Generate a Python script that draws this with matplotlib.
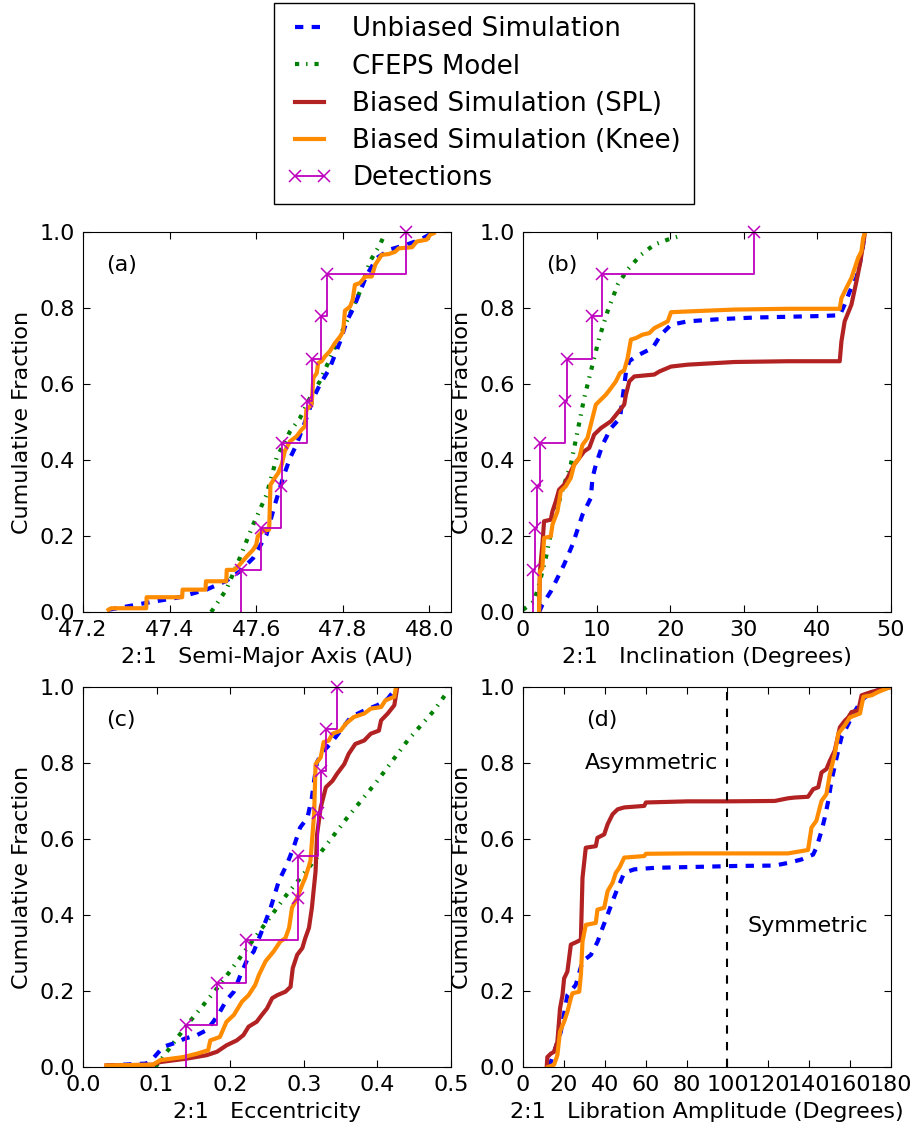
import numpy as np
import matplotlib
matplotlib.use("Agg")
import matplotlib.pyplot as plt
from matplotlib.lines import Line2D

# ---- DATA ----
# panel (a): semi-major axis (AU)
a_unb_x = [47.259, 47.346, 47.423, 47.485, 47.531, 47.562, 47.593, 47.624, 47.643, 47.662,
           47.678, 47.693, 47.716, 47.732, 47.747, 47.770, 47.794, 47.809, 47.825, 47.840,
           47.856, 47.879, 47.909, 47.948, 47.979, 48.000, 48.010]
a_unb_y = [0.006, 0.024, 0.039, 0.059, 0.082, 0.107, 0.142, 0.204, 0.282, 0.353,
           0.405, 0.440, 0.510, 0.563, 0.598, 0.642, 0.712, 0.765, 0.800, 0.844,
           0.888, 0.932, 0.954, 0.967, 0.980, 0.993, 0.998]
a_cfeps_x = [47.496, 47.531, 47.562, 47.593, 47.624, 47.647, 47.678, 47.701, 47.724, 47.747,
             47.778, 47.809, 47.840, 47.863, 47.886, 47.898]
a_cfeps_y = [0.000, 0.059, 0.142, 0.230, 0.309, 0.405, 0.475, 0.510, 0.563, 0.607,
             0.686, 0.765, 0.844, 0.923, 0.967, 0.997]
a_knee_x = [47.259, 47.265, 47.346, 47.347, 47.429, 47.430, 47.483, 47.484, 47.531, 47.532,
            47.550, 47.562, 47.578, 47.593, 47.600, 47.604, 47.616, 47.630, 47.633, 47.643,
            47.651, 47.659, 47.666, 47.678, 47.693, 47.705, 47.713, 47.716, 47.728, 47.732,
            47.740, 47.743, 47.751, 47.759, 47.770, 47.782, 47.794, 47.801, 47.805, 47.817,
            47.823, 47.828, 47.840, 47.852, 47.867, 47.875, 47.890, 47.906, 47.921, 47.929,
            47.960, 47.971, 47.994, 48.002, 48.010]
a_knee_y = [0.006, 0.010, 0.010, 0.039, 0.039, 0.059, 0.059, 0.081, 0.081, 0.111,
            0.111, 0.125, 0.146, 0.164, 0.177, 0.200, 0.214, 0.217, 0.335, 0.353,
            0.366, 0.388, 0.423, 0.449, 0.462, 0.480, 0.489, 0.532, 0.546, 0.616,
            0.629, 0.655, 0.660, 0.673, 0.686, 0.708, 0.725, 0.739, 0.793, 0.804,
            0.822, 0.861, 0.866, 0.883, 0.883, 0.914, 0.940, 0.942, 0.948, 0.957,
            0.960, 0.975, 0.980, 0.993, 0.997]
a_det_x = [47.566, 47.612, 47.657, 47.660, 47.718, 47.728, 47.749, 47.764, 47.946]
a_det_y = [0.111, 0.222, 0.333, 0.444, 0.556, 0.667, 0.778, 0.889, 1.000]

# panel (b): inclination (degrees)
b_unb_x = [2.18, 2.63, 3.77, 5.58, 6.72, 8.08, 9.21, 9.44, 9.90, 10.80, 11.94, 13.17, 13.53,
           14.00, 14.44, 15.34, 17.60, 18.75, 20.11, 22.38, 26.90, 31.46, 40.50, 43.03,
           43.70, 44.40, 45.30, 45.80, 46.21, 46.44]
b_unb_y = [0.000, 0.019, 0.054, 0.125, 0.177, 0.256, 0.300, 0.353, 0.388, 0.440, 0.484, 0.510,
           0.563, 0.633, 0.660, 0.673, 0.695, 0.730, 0.756, 0.765, 0.771, 0.775, 0.779, 0.781,
           0.809, 0.844, 0.880, 0.920, 0.967, 0.997]
b_cfeps_x = [0.00, 1.50, 2.18, 3.09, 4.22, 5.58, 6.49, 7.40, 8.31, 9.21, 10.35, 11.48,
             12.85, 14.20, 16.02, 17.84, 19.66, 21.24]
b_cfeps_y = [0.006, 0.028, 0.072, 0.142, 0.247, 0.335, 0.388, 0.475, 0.563, 0.633, 0.721, 0.791,
             0.861, 0.901, 0.940, 0.967, 0.980, 0.989]
b_spl_x = [2.18, 2.30, 2.63, 2.86, 3.77, 4.00, 4.45, 4.90, 5.58, 6.26, 6.95, 7.63, 8.31,
           9.00, 9.67, 10.58, 11.94, 12.85, 13.75, 13.98, 14.44, 15.12, 17.84, 18.52, 20.11,
           22.38, 28.73, 36.00, 43.03, 43.26, 43.70, 44.62, 45.30, 45.76, 46.21, 46.44]
b_spl_y = [0.000, 0.107, 0.177, 0.239, 0.243, 0.265, 0.291, 0.322, 0.335, 0.361, 0.388, 0.405,
           0.423, 0.432, 0.467, 0.484, 0.502, 0.524, 0.546, 0.572, 0.607, 0.620, 0.625, 0.633,
           0.646, 0.651, 0.658, 0.660, 0.660, 0.712, 0.765, 0.809, 0.870, 0.914, 0.967, 0.997]
b_knee_x = [2.18, 2.30, 2.63, 2.86, 3.77, 4.00, 4.68, 5.13, 5.81, 6.49, 6.95, 7.63, 8.08,
            8.76, 9.44, 9.90, 10.58, 11.26, 11.94, 12.62, 13.17, 13.75, 14.21, 14.66, 15.34,
            16.25, 17.16, 17.84, 18.75, 19.66, 20.11, 22.38, 28.73, 36.00, 43.03, 43.26,
            43.94, 44.62, 45.07, 45.53, 45.98, 46.21, 46.44]
b_knee_y = [0.000, 0.107, 0.115, 0.195, 0.199, 0.230, 0.265, 0.318, 0.331, 0.353, 0.388, 0.405,
            0.440, 0.458, 0.511, 0.546, 0.559, 0.572, 0.589, 0.607, 0.629, 0.636, 0.668, 0.717,
            0.721, 0.730, 0.734, 0.747, 0.756, 0.765, 0.789, 0.791, 0.796, 0.798, 0.798, 0.826,
            0.853, 0.879, 0.905, 0.932, 0.949, 0.984, 0.997]
b_det_x = [1.36, 1.63, 1.95, 2.30, 5.72, 5.95, 9.35, 10.67, 31.37]
b_det_y = [0.111, 0.222, 0.333, 0.444, 0.556, 0.667, 0.778, 0.889, 1.000]

# panel (c): eccentricity
c_unb_x = [0.032, 0.086, 0.095, 0.109, 0.123, 0.139, 0.155, 0.168, 0.177, 0.186, 0.195, 0.205,
           0.214, 0.223, 0.232, 0.241, 0.248, 0.255, 0.266, 0.277, 0.286, 0.295, 0.305, 0.311,
           0.314, 0.318, 0.325, 0.336, 0.350, 0.364, 0.382, 0.400, 0.414, 0.425]
c_unb_y = [0.004, 0.009, 0.022, 0.053, 0.062, 0.075, 0.084, 0.097, 0.119, 0.145, 0.176, 0.198,
           0.242, 0.282, 0.304, 0.348, 0.383, 0.419, 0.489, 0.533, 0.577, 0.630, 0.656, 0.709,
           0.753, 0.802, 0.828, 0.850, 0.885, 0.921, 0.938, 0.952, 0.969, 0.996]
c_cfeps_x = [0.098, 0.102, 0.141, 0.186, 0.223, 0.250, 0.277, 0.314, 0.359, 0.400, 0.441,
             0.477, 0.495]
c_cfeps_y = [0.000, 0.009, 0.110, 0.216, 0.313, 0.383, 0.454, 0.542, 0.656, 0.753, 0.859,
             0.938, 0.987]
c_spl_x = [0.032, 0.095, 0.105, 0.141, 0.168, 0.182, 0.195, 0.209, 0.218, 0.225, 0.236, 0.243,
           0.250, 0.257, 0.264, 0.275, 0.282, 0.285, 0.291, 0.298, 0.302, 0.307, 0.311, 0.316,
           0.318, 0.323, 0.330, 0.339, 0.345, 0.355, 0.361, 0.370, 0.382, 0.391, 0.402, 0.405,
           0.414, 0.423, 0.427]
c_spl_y = [0.004, 0.006, 0.013, 0.022, 0.031, 0.040, 0.057, 0.070, 0.084, 0.106, 0.119, 0.137,
           0.154, 0.181, 0.189, 0.198, 0.211, 0.260, 0.295, 0.313, 0.339, 0.366, 0.419, 0.515,
           0.612, 0.683, 0.736, 0.753, 0.771, 0.797, 0.824, 0.850, 0.859, 0.877, 0.885, 0.912,
           0.930, 0.952, 1.000]
c_knee_x = [0.032, 0.095, 0.105, 0.136, 0.155, 0.170, 0.173, 0.186, 0.195, 0.205, 0.216, 0.225,
            0.234, 0.239, 0.248, 0.259, 0.268, 0.275, 0.280, 0.284, 0.291, 0.298, 0.302, 0.309,
            0.314, 0.316, 0.323, 0.327, 0.334, 0.339, 0.350, 0.357, 0.368, 0.382, 0.391, 0.405,
            0.411, 0.423, 0.425]
c_knee_y = [0.004, 0.006, 0.018, 0.026, 0.035, 0.044, 0.070, 0.079, 0.119, 0.137, 0.172, 0.189,
            0.216, 0.242, 0.278, 0.304, 0.330, 0.339, 0.366, 0.419, 0.445, 0.480, 0.498, 0.542,
            0.665, 0.797, 0.815, 0.855, 0.859, 0.877, 0.885, 0.903, 0.921, 0.930, 0.943, 0.947,
            0.965, 0.974, 0.996]
c_det_x = [0.1395, 0.1827, 0.2218, 0.2923, 0.2925, 0.3195, 0.3236, 0.3305, 0.3445]
c_det_y = [0.111, 0.222, 0.333, 0.444, 0.556, 0.667, 0.778, 0.889, 1.000]

# panel (d): libration amplitude (degrees)
d_unb_x = [12.8, 18.5, 21.7, 25.8, 29.1, 33.2, 36.5, 38.9, 41.4, 43.8, 46.3, 47.8, 49.5,
           54.4, 64.2, 80.6, 105.1, 123.1, 129.6, 136.2, 141.9, 143.5, 146.0, 147.6, 149.3,
           150.9, 153.4, 155.8, 158.3, 161.6, 165.6, 170.5, 178.8]
d_unb_y = [0.000, 0.093, 0.189, 0.216, 0.278, 0.295, 0.330, 0.366, 0.401, 0.436, 0.471, 0.489,
           0.511, 0.520, 0.524, 0.526, 0.529, 0.530, 0.537, 0.546, 0.559, 0.577, 0.621, 0.656,
           0.700, 0.753, 0.815, 0.868, 0.894, 0.930, 0.965, 0.987, 0.998]
d_spl_x = [11.6, 11.9, 13.6, 15.2, 16.8, 18.1, 19.3, 20.1, 21.7, 23.4, 26.6, 28.3, 29.1,
           30.7, 35.6, 36.4, 39.7, 41.4, 43.8, 46.3, 49.5, 59.3, 60.1, 80.6, 100.2, 123.1,
           129.6, 132.9, 139.4, 141.9, 144.4, 146.0, 148.4, 150.1, 152.5, 155.0, 157.4,
           159.1, 160.7, 164.0, 165.6, 170.5, 174.6, 178.8]
d_spl_y = [0.000, 0.026, 0.035, 0.040, 0.066, 0.154, 0.189, 0.233, 0.251, 0.322, 0.330, 0.335,
           0.498, 0.577, 0.581, 0.603, 0.612, 0.639, 0.665, 0.678, 0.683, 0.687, 0.696, 0.699,
           0.699, 0.700, 0.707, 0.709, 0.711, 0.731, 0.736, 0.775, 0.784, 0.806, 0.833, 0.894,
           0.911, 0.920, 0.934, 0.938, 0.978, 0.987, 0.993, 0.998]
d_knee_x = [12.3, 15.2, 16.8, 18.1, 20.1, 21.7, 23.4, 24.2, 27.5, 28.3, 29.1, 30.7, 35.6,
            36.4, 39.7, 41.4, 43.8, 45.4, 47.1, 49.5, 59.3, 60.1, 80.6, 129.6, 139.4, 141.1,
            143.5, 146.0, 148.4, 150.1, 152.5, 154.2, 157.4, 159.9, 164.8, 166.5, 170.5,
            173.8, 178.8]
d_knee_y = [0.000, 0.006, 0.031, 0.093, 0.119, 0.145, 0.181, 0.194, 0.198, 0.242, 0.330, 0.374,
            0.379, 0.414, 0.419, 0.463, 0.485, 0.511, 0.524, 0.551, 0.555, 0.561, 0.562, 0.562,
            0.571, 0.630, 0.648, 0.700, 0.718, 0.771, 0.824, 0.877, 0.899, 0.920, 0.930, 0.974,
            0.978, 0.987, 0.998]

# ---- STYLE (old matplotlib look) ----
plt.rcParams["font.family"] = "DejaVu Sans"
plt.rcParams["font.size"] = 16
plt.rcParams["xtick.direction"] = "in"
plt.rcParams["ytick.direction"] = "in"
plt.rcParams["xtick.top"] = True
plt.rcParams["ytick.right"] = True
plt.rcParams["xtick.major.size"] = 5
plt.rcParams["ytick.major.size"] = 5
plt.rcParams["xtick.major.pad"] = 6
plt.rcParams["ytick.major.pad"] = 6
plt.rcParams["axes.labelpad"] = 5
plt.rcParams["lines.scale_dashes"] = False
plt.rcParams["lines.dashed_pattern"] = [6, 6]
plt.rcParams["lines.dashdot_pattern"] = [3, 5, 1, 5]

C_UNB = "blue"
C_CFEPS = "green"
C_SPL = "firebrick"
C_KNEE = "darkorange"
C_DET = "m"
LW = 3

fig = plt.figure(figsize=(9.15, 11.28), dpi=100)
w, h = 0.4022, 0.3369
ax_a = fig.add_axes([0.0907, 0.4574, w, h])
ax_b = fig.add_axes([0.5716, 0.4574, w, h])
ax_c = fig.add_axes([0.0907, 0.0541, w, h])
ax_d = fig.add_axes([0.5716, 0.0541, w, h])


def detections(ax, x, y):
    ax.plot([x[0]] + list(x), [0] + list(y), drawstyle="steps-post", color=C_DET, lw=1.3)
    ax.plot(x, y, "x", color=C_DET, ms=8, mew=1.1, clip_on=False)


# (a)
ax_a.plot(a_cfeps_x, a_cfeps_y, color=C_CFEPS, ls="-.", lw=LW)
ax_a.plot(a_unb_x, a_unb_y, color=C_UNB, ls="--", lw=LW)
ax_a.plot(a_knee_x, a_knee_y, color=C_KNEE, lw=LW)
detections(ax_a, a_det_x, a_det_y)
ax_a.set_xlim(47.2, 48.05)
ax_a.set_xticks([47.2, 47.4, 47.6, 47.8, 48.0])
ax_a.set_xlabel("2:1   Semi-Major Axis (AU)")
ax_a.text(0.063, 0.913, "(a)", transform=ax_a.transAxes, va="center")

# (b)
ax_b.plot(b_cfeps_x, b_cfeps_y, color=C_CFEPS, ls="-.", lw=LW)
ax_b.plot(b_unb_x, b_unb_y, color=C_UNB, ls="--", lw=LW)
ax_b.plot(b_spl_x, b_spl_y, color=C_SPL, lw=LW)
ax_b.plot(b_knee_x, b_knee_y, color=C_KNEE, lw=LW)
detections(ax_b, b_det_x, b_det_y)
ax_b.set_xlim(0, 50)
ax_b.set_xlabel("2:1   Inclination (Degrees)")
ax_b.text(0.063, 0.913, "(b)", transform=ax_b.transAxes, va="center")

# (c)
ax_c.plot(c_cfeps_x, c_cfeps_y, color=C_CFEPS, ls="-.", lw=LW)
ax_c.plot(c_unb_x, c_unb_y, color=C_UNB, ls="--", lw=LW)
ax_c.plot(c_spl_x, c_spl_y, color=C_SPL, lw=LW)
ax_c.plot(c_knee_x, c_knee_y, color=C_KNEE, lw=LW)
detections(ax_c, c_det_x, c_det_y)
ax_c.set_xlim(0, 0.5)
ax_c.set_xlabel("2:1   Eccentricity")
ax_c.text(0.063, 0.913, "(c)", transform=ax_c.transAxes, va="center")

# (d)
ax_d.plot(d_unb_x, d_unb_y, color=C_UNB, ls="--", lw=LW)
ax_d.plot(d_spl_x, d_spl_y, color=C_SPL, lw=LW)
ax_d.plot(d_knee_x, d_knee_y, color=C_KNEE, lw=LW)
ax_d.axvline(100, color="black", ls="--", lw=1.5)
ax_d.set_xlim(0, 180)
ax_d.set_xticks(np.arange(0, 181, 20))
ax_d.set_xlabel("2:1   Libration Amplitude (Degrees)")
ax_d.text(0.172, 0.913, "(d)", transform=ax_d.transAxes, va="center")
ax_d.text(0.168, 0.80, "Asymmetric", transform=ax_d.transAxes, va="center")
ax_d.text(0.61, 0.37, "Symmetric", transform=ax_d.transAxes, va="center")

for ax in (ax_a, ax_b, ax_c, ax_d):
    ax.set_ylim(0, 1)
    ax.set_yticks(np.arange(0, 1.01, 0.2))
    ax.yaxis.set_major_formatter(plt.FormatStrFormatter("%.1f"))
    if ax is ax_a or ax is ax_c:
        ax.xaxis.set_major_formatter(plt.FormatStrFormatter("%.1f"))
    ax.set_ylabel("Cumulative Fraction")

handles = [
    Line2D([], [], color=C_UNB, ls="--", lw=LW),
    Line2D([], [], color=C_CFEPS, ls="-.", lw=LW),
    Line2D([], [], color=C_SPL, lw=LW),
    Line2D([], [], color=C_KNEE, lw=LW),
    Line2D([], [], color=C_DET, lw=1.3, marker="x", ms=8, mew=1.1),
]
labels = ["Unbiased Simulation", "CFEPS Model", "Biased Simulation (SPL)",
          "Biased Simulation (Knee)", "Detections"]
leg = fig.legend(handles, labels, loc="upper center", bbox_to_anchor=(0.529, 0.997),
                 fontsize=18.7, numpoints=2, handlelength=1.7, fancybox=False,
                 edgecolor="black", framealpha=1, borderaxespad=0,
                 labelspacing=0.43, borderpad=0.5)
leg.get_frame().set_linewidth(1.0)

fig.savefig("out.png", dpi=100)
